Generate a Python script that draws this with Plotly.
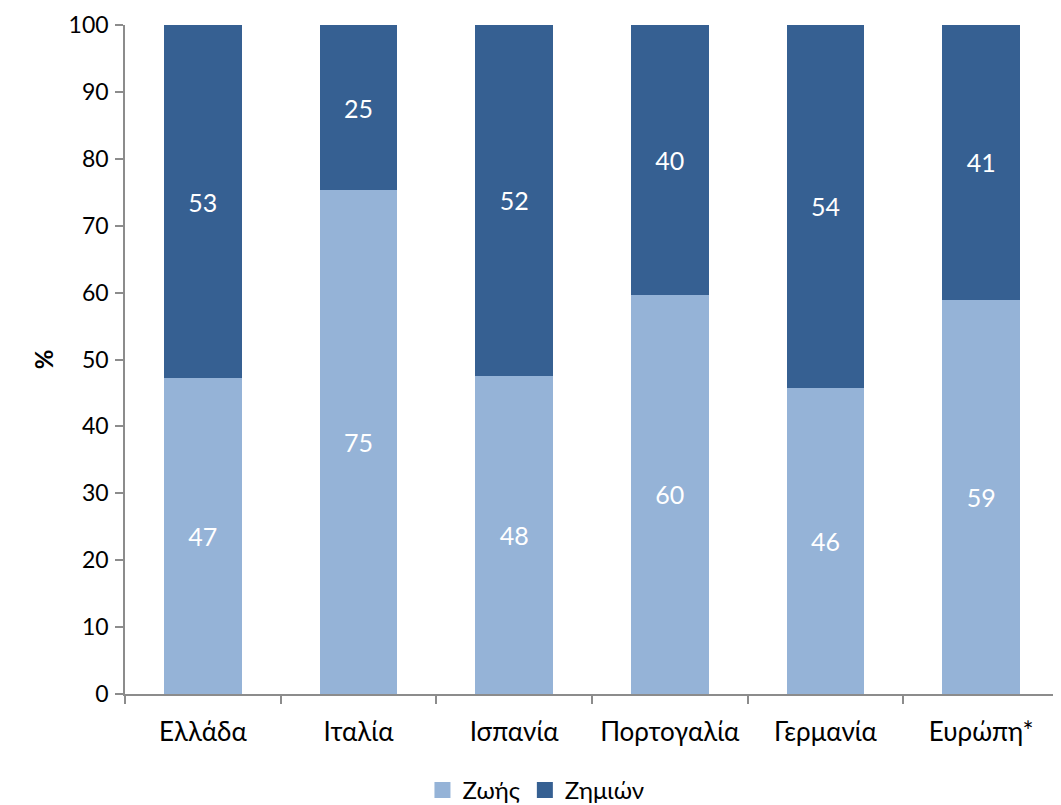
import plotly.graph_objects as go

categories = ["Ελλάδα", "Ιταλία", "Ισπανία", "Πορτογαλία", "Γερμανία", "Ευρώπη*"]
zois = [47.2, 75.3, 47.6, 59.7, 45.8, 58.9]
zimion = [52.8, 24.7, 52.4, 40.3, 54.2, 41.1]
y_ticks = [0, 10, 20, 30, 40, 50, 60, 70, 80, 90, 100]
series_names = ["Ζωής", "Ζημιών"]
series_colors = ["#95B3D7", "#366092"]

FONT = "Lato, 'Open Sans', sans-serif"

fig = go.Figure()
for vals, name, color in zip([zois, zimion], series_names, series_colors):
    fig.add_trace(go.Bar(
        x=categories, y=vals, name=name, showlegend=False,
        marker=dict(color=color, line=dict(width=0)),
        texttemplate="%{y:.0f}", textposition="inside", insidetextanchor="middle",
        textfont=dict(color="white", size=25, family=FONT),
    ))
# legend entries with larger square swatches
for name, color in zip(series_names, series_colors):
    fig.add_trace(go.Scatter(
        x=[None], y=[None], mode="markers", name=name,
        marker=dict(symbol="square", size=16, color=color),
    ))

fig.update_layout(
    barmode="stack",
    bargap=0.5,
    width=1061, height=805,
    margin=dict(l=117, r=10, t=17, b=119, autoexpand=False),
    paper_bgcolor="white", plot_bgcolor="white",
    font=dict(family=FONT, size=23, color="black"),
    legend=dict(orientation="h", x=0.44, xanchor="center",
                yref="container", y=0.0, yanchor="bottom",
                font=dict(size=24, family=FONT), traceorder="normal",
                itemwidth=30, itemsizing="trace"),
    showlegend=True,
)
fig.update_xaxes(
    showline=True, linecolor="#8c8c8c", linewidth=1.5,
    ticks="outside", ticklen=8, tickcolor="#8c8c8c", tickwidth=1.5,
    tickson="boundaries", showgrid=False, automargin=False,
    ticklabelstandoff=14, ticklabeloverflow="allow",
    tickfont=dict(size=26, family=FONT),
)
fig.update_yaxes(
    range=[0, 100], tickvals=y_ticks,
    showline=True, linecolor="#8c8c8c", linewidth=1.5,
    ticks="outside", ticklen=8, tickcolor="#8c8c8c", tickwidth=1.5,
    showgrid=False, zeroline=False, automargin=False,
    ticklabelstandoff=2, ticklabeloverflow="allow",
    tickfont=dict(size=23, family=FONT),
    title=dict(text="<b>%</b>", font=dict(size=24, family=FONT), standoff=8),
)

fig.write_html("out.html")
